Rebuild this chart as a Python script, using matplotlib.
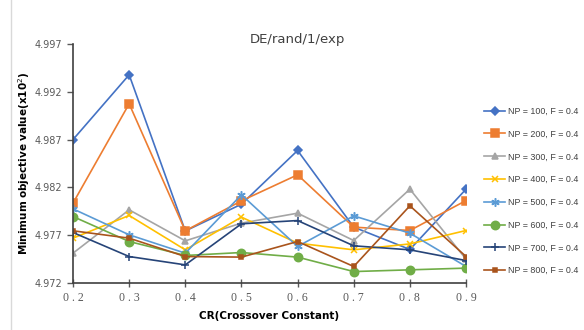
import numpy as np
import matplotlib.pyplot as plt
from matplotlib.lines import Line2D

cr = [0.2, 0.3, 0.4, 0.5, 0.6, 0.7, 0.8, 0.9]

np100 = [4.98700, 4.99377, 4.97745, 4.98025, 4.98586, 4.97785, 4.97552, 4.98182]
np200 = [4.98036, 4.99074, 4.97747, 4.98060, 4.98332, 4.97785, 4.97750, 4.98063]
np300 = [4.97513, 4.97966, 4.97642, 4.97827, 4.97931, 4.97645, 4.98182, 4.97450]
np400 = [4.97670, 4.97907, 4.97548, 4.97890, 4.97618, 4.97548, 4.97610, 4.97750]
np500 = [4.97976, 4.97705, 4.97513, 4.98123, 4.97583, 4.97903, 4.97722, 4.97374]
np600 = [4.97896, 4.97635, 4.97489, 4.97520, 4.97472, 4.97321, 4.97339, 4.97357]
np700 = [4.97729, 4.97478, 4.97391, 4.97820, 4.97854, 4.97590, 4.97548, 4.97436]
np800 = [4.97747, 4.97670, 4.97478, 4.97472, 4.97635, 4.97374, 4.98008, 4.97478]

labels = ['NP = 100, F = 0.4', 'NP = 200, F = 0.4', 'NP = 300, F = 0.4',
          'NP = 400, F = 0.4', 'NP = 500, F = 0.4', 'NP = 600, F = 0.4',
          'NP = 700, F = 0.4', 'NP = 800, F = 0.4']
series = [np100, np200, np300, np400, np500, np600, np700, np800]
colors = ['#4472C4', '#ED7D31', '#A5A5A5', '#FFC000',
          '#5B9BD5', '#70AD47', '#264478', '#A9541C']
markers = ['D', 's', '^', 'x', (6, 2, 0), 'o', '+', 's']
msizes = [4, 6, 5, 5, 6, 6, 6, 3]

fig = plt.figure(figsize=(5.84, 3.30), dpi=100)
ax = fig.add_axes([0.125, 0.142, 0.673, 0.725])

for ys, lab, c, m, ms in zip(series, labels, colors, markers, msizes):
    ax.plot(cr, ys, color=c, marker=m, markersize=ms, linewidth=1.2,
            markeredgewidth=1.1, label=lab)

ax.set_xlim(0.2, 0.9)
ax.set_ylim(4.972, 4.997)
ax.set_yticks([4.972, 4.977, 4.982, 4.987, 4.992, 4.997])
ax.set_yticklabels(['4.972', '4.977', '4.982', '4.987', '4.992', '4.997'])
ax.set_xticks(cr)
ax.set_xticklabels([' . '.join(f'{v:.1f}'.split('.')) for v in cr],
                   family='Liberation Serif')
ax.tick_params(axis='y', direction='out', length=4, labelsize=7,
               colors='#595959', width=1)
ax.tick_params(axis='x', direction='inout', length=6, labelsize=8.5,
               colors='#595959', width=1)
for s in ['top', 'right']:
    ax.spines[s].set_visible(False)
for s in ['left', 'bottom']:
    ax.spines[s].set_color('#404040')
    ax.spines[s].set_linewidth(1.2)

ax.set_xlabel('CR(Crossover Constant)', fontsize=7.5, fontweight='bold',
              labelpad=5)
ax.set_ylabel('Minimum objective value(x10$^2$)', fontsize=7.5,
              fontweight='bold', labelpad=2)

fig.text(0.51, 0.86, 'DE/rand/1/exp', ha='center', va='bottom',
         fontsize=9.5, color='#404040')

ax.legend(loc='center left', bbox_to_anchor=(1.046, 0.385), frameon=False,
          labelspacing=1.55, handlelength=2.4, handletextpad=0.3,
          borderpad=0, borderaxespad=0, labelcolor='#404040',
          prop={'family': 'Liberation Sans', 'size': 6.4})

fig.add_artist(Line2D([0.019, 0.019], [0.0, 1.0], color='#D9D9D9',
                      linewidth=1, transform=fig.transFigure))

fig.savefig('out.png', dpi=100)
